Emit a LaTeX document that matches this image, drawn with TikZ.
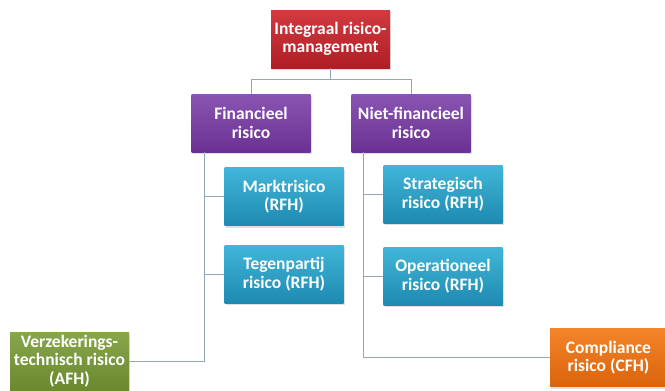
\documentclass[tikz,border=0pt]{standalone}
\usepackage{fontspec}
\setmainfont{Carlito}
\usetikzlibrary{shadows,positioning}

% box colours
\definecolor{redtop}{HTML}{D23A3F}
\definecolor{redbot}{HTML}{AE1F25}
\definecolor{purtop}{HTML}{8A55B2}
\definecolor{purbot}{HTML}{6A3192}
\definecolor{blutop}{HTML}{41B6D8}
\definecolor{blubot}{HTML}{1E8AB1}
\definecolor{grntop}{HTML}{88A74B}
\definecolor{grnbot}{HTML}{6A892E}
\definecolor{orgtop}{HTML}{F3842A}
\definecolor{orgbot}{HTML}{DA640B}
\definecolor{linecol}{HTML}{8FA9B9}

\tikzset{
  riskbox/.style={rectangle,minimum width=119pt,minimum height=58pt,inner sep=0pt,
    align=center,text=white,font=\fontsize{17.5}{18.5}\selectfont\bfseries,
    drop shadow={opacity=0.25,shadow xshift=1pt,shadow yshift=-2pt}},
  redbox/.style={riskbox,top color=redtop,bottom color=redbot},
  purbox/.style={riskbox,top color=purtop,bottom color=purbot},
  blubox/.style={riskbox,top color=blutop,bottom color=blubot},
  grnbox/.style={riskbox,top color=grntop,bottom color=grnbot},
  orgbox/.style={riskbox,top color=orgtop,bottom color=orgbot},
  link/.style={draw=linecol,line width=0.9pt}
}

\begin{document}
\begin{tikzpicture}[x=1pt,y=-1pt]
		\useasboundingbox (0,0) rectangle (665,391);
		% Define boxes
		\node[redbox] (integraal) at (330.5,39) {Integraal risico-\\management};
		\node[purbox] (financieel) at (251,123) {Financieel\\risico};
		\node[purbox] (nietfin) at (411,123) {Niet-financieel\\risico};
		\node[blubox] (markt) at (284,196.5) {Marktrisico\\(RFH)};
		\node[blubox] (tegenpartij) at (284,274) {Tegenpartij\\risico (RFH)};
		\node[blubox] (strategisch) at (443,194) {Strategisch\\risico (RFH)};
		\node[blubox] (operationeel) at (443,276) {Operationeel\\risico (RFH)};
		\node[grnbox] (verzekering) at (69.5,361) {Verzekerings-\\technisch risico\\(AFH)};
		\node[orgbox,minimum width=117pt] (compliance) at (608.5,357.5) {Compliance\\risico (CFH)};

		% Connections
		\draw[link] (integraal.south) -- ++(0,11) -| (financieel.north);
		\draw[link] (integraal.south) -- ++(0,11) -| (nietfin.north);
		\draw[link] ([xshift=-47pt]financieel.south) |- (markt.west);
		\draw[link] ([xshift=-47pt]financieel.south) |- (tegenpartij.west);
		\draw[link] ([xshift=-47pt]financieel.south) |- (verzekering.east);
		\draw[link] ([xshift=-48pt]nietfin.south) |- (strategisch.west);
		\draw[link] ([xshift=-48pt]nietfin.south) |- (operationeel.west);
		\draw[link] ([xshift=-48pt]nietfin.south) |- (compliance.west);
	\end{tikzpicture}
\end{document}
